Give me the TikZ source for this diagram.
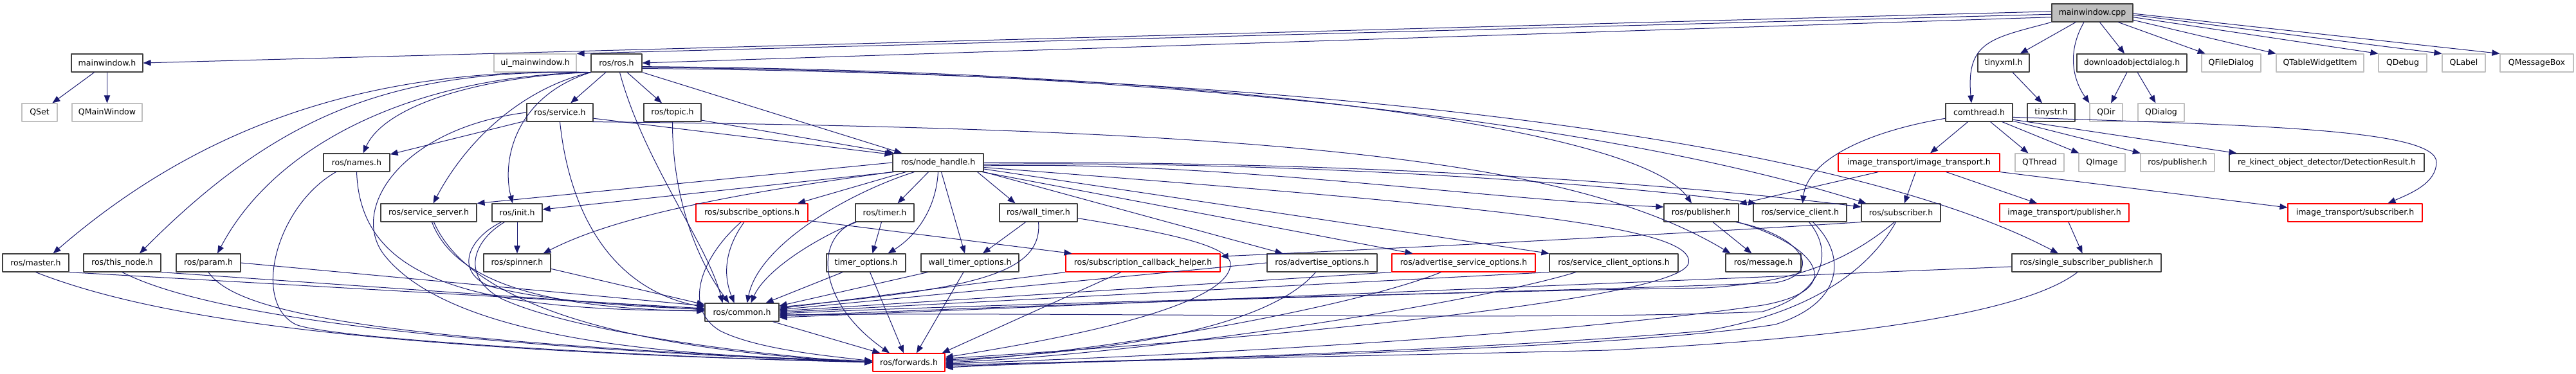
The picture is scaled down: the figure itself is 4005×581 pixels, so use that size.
\documentclass[tikz,border=0pt]{standalone}
\usepackage{fontspec}
\setmainfont{DejaVu Sans}
\usetikzlibrary{arrows.meta,calc}
\definecolor{depblue}{RGB}{25,25,112}
\definecolor{extgray}{RGB}{191,191,191}
\definecolor{hdrgray}{RGB}{64,64,64}

\begin{document}
\begin{tikzpicture}[x=0.3mm,y=-0.3mm,>={Triangle[length=3.6mm,width=2.8mm]},
    line join=round,
    hfile/.style={draw=hdrgray,line width=0.35mm,fill=white,inner sep=0pt,
      minimum height=8.4mm,font=\fontsize{10.7pt}{12pt}\selectfont},
    extfile/.style={hfile,draw=extgray},
    trunc/.style={hfile,draw=red},
    rootfile/.style={hfile,fill=extgray},
    bw/.style={minimum width=#1*0.3mm},
    dep/.style={->,draw=depblue,line width=0.3mm}]
    \useasboundingbox (0,0) rectangle (4005,581);

    % Row 0 and 1: the source file and what it pulls in directly.
    \node[rootfile,bw=126] (mcpp) at (3253,20) {mainwindow.cpp};
    \node[hfile,bw=111] (mwh) at (166.5,98) {mainwindow.h};
    \node[extfile,bw=128] (uimw) at (832,98) {ui\_mainwindow.h};
    \node[hfile,bw=79] (ros) at (958.5,98) {ros/ros.h};
    \node[hfile,bw=80] (txml) at (3115,98) {tinyxml.h};
    \node[hfile,bw=171] (dlg) at (3314.5,98) {downloadobjectdialog.h};
    \node[extfile,bw=92] (qfd) at (3469,98) {QFileDialog};
    \node[extfile,bw=136] (qtwi) at (3607,98) {QTableWidgetItem};
    \node[extfile,bw=75] (qdbg) at (3735.5,98) {QDebug};
    \node[extfile,bw=67] (qlbl) at (3830.5,98) {QLabel};
    \node[extfile,bw=114] (qmb) at (3944,98) {QMessageBox};

    % Row 2.
    \node[extfile,bw=55] (qset) at (61.5,175) {QSet};
    \node[extfile,bw=109] (qmw) at (166.5,175) {QMainWindow};
    \node[hfile,bw=103] (srv) at (870.5,175) {ros/service.h};
    \node[hfile,bw=89] (topic) at (1045.5,175) {ros/topic.h};
    \node[hfile,bw=104] (cth) at (3077,175) {comthread.h};
    \node[hfile,bw=74] (tstr) at (3189,175) {tinystr.h};
    \node[extfile,bw=51] (qdir) at (3274.5,175) {QDir};
    \node[extfile,bw=72] (qdlg) at (3360,175) {QDialog};

    % Row 3.
    \node[hfile,bw=103] (names) at (554.5,253) {ros/names.h};
    \node[hfile,bw=141] (nh) at (1458.5,253) {ros/node\_handle.h};
    \node[trunc,bw=251] (itit) at (2983.5,253) {image\_transport/image\_transport.h};
    \node[extfile,bw=76] (qthr) at (3171,253) {QThread};
    \node[extfile,bw=72] (qimg) at (3268,253) {QImage};
    \node[extfile,bw=115] (rpubx) at (3385.5,253) {ros/publisher.h};
    \node[hfile,bw=303] (det) at (3617.5,253) {re\_kinect\_object\_detector/DetectionResult.h};

    % Row 4.
    \node[hfile,bw=149] (ssrv) at (666.5,331) {ros/service\_server.h};
    \node[hfile,bw=78] (init) at (804,331) {ros/init.h};
    \node[trunc,bw=174] (subopt) at (1169,331) {ros/subscribe\_options.h};
    \node[hfile,bw=91] (timer) at (1375.5,331) {ros/timer.h};
    \node[hfile,bw=121] (wtimer) at (1614.5,331) {ros/wall\_timer.h};
    \node[hfile,bw=116] (pub) at (2645,331) {ros/publisher.h};
    \node[hfile,bw=145] (sclient) at (2798.5,331) {ros/service\_client.h};
    \node[hfile,bw=123] (sub) at (2955.5,331) {ros/subscriber.h};
    \node[trunc,bw=201] (itpub) at (3209.5,331) {image\_transport/publisher.h};
    \node[trunc,bw=209] (itsub) at (3661.5,331) {image\_transport/subscriber.h};

    % Row 5.
    \node[hfile,bw=103] (master) at (55.5,409) {ros/master.h};
    \node[hfile,bw=120] (tnode) at (190,409) {ros/this\_node.h};
    \node[hfile,bw=100] (param) at (324,409) {ros/param.h};
    \node[hfile,bw=104] (spin) at (804,409) {ros/spinner.h};
    \node[hfile,bw=123] (topt) at (1346.5,409) {timer\_options.h};
    \node[hfile,bw=152] (wtopt) at (1508,409) {wall\_timer\_options.h};
    \node[trunc,bw=240] (scbh) at (1777,409) {ros/subscription\_callback\_helper.h};
    \node[hfile,bw=171] (advo) at (2055.5,409) {ros/advertise\_options.h};
    \node[trunc,bw=223] (advso) at (2275.5,409) {ros/advertise\_service\_options.h};
    \node[hfile,bw=200] (scopt) at (2509,409) {ros/service\_client\_options.h};
    \node[hfile,bw=117] (msg) at (2741.5,409) {ros/message.h};
    \node[hfile,bw=232] (ssp) at (3244,409) {ros/single\_subscriber\_publisher.h};

    % Rows 6 and 7.
    \node[hfile,bw=115] (common) at (1153.5,486) {ros/common.h};
    \node[trunc,bw=112] (fwd) at (1413,564) {ros/forwards.h};

    % mainwindow.cpp
    \draw[dep] (mcpp.178) -- (mwh.east);
    \draw[dep] (mcpp.182) -- (uimw.north east);
    \draw[dep] (mcpp.186) -- (ros.east);
    \draw[dep] (mcpp.south west) to[out=195,in=95,looseness=1.4] ($(cth.north)+(-12,0)$);
    \draw[dep] (mcpp) -- (txml);
    \draw[dep] ($(mcpp.south)+(-13,0)$) to[out=-120,in=125] (qdir.north west);
    \draw[dep] (mcpp) -- (dlg);
    \draw[dep] (mcpp) -- (qfd);
    \draw[dep] (mcpp.-10) -- (qtwi.north west);
    \draw[dep] (mcpp.-6) -- (qdbg.north west);
    \draw[dep] (mcpp.-3) -- (qlbl.north west);
    \draw[dep] (mcpp.-1) -- (qmb.north west);

    \draw[dep] (mwh) -- (qset);
    \draw[dep] (mwh) -- (qmw);
    \draw[dep] (txml) -- (tstr);
    \draw[dep] (dlg) -- (qdir);
    \draw[dep] (dlg) -- (qdlg);

    % comthread.h
    \draw[dep] (cth) -- (itit);
    \draw[dep] (cth) -- (qthr);
    \draw[dep] (cth) -- (qimg);
    \draw[dep] (cth) -- (rpubx);
    \draw[dep] (cth.-12) -- ($(det.north west)+(12,0)$);
    \draw[dep] (cth.-8) .. controls (3500,195) and (3790,200) .. (3788,253)
      .. controls (3787,285) and (3750,300) .. ($(itsub.north)+(51,0)$);
    \draw[dep] (cth.190) .. controls (2900,205) and (2810,250) .. ($(sclient.north)+(4,0)$);

    % image_transport
    \draw[dep] (itit) -- (itpub);
    \draw[dep] (itit.south east) -- ($(itsub.west)+(0,-8)$);
    \draw[dep] (itit) -- (sub);
    \draw[dep] (itit) -- (pub);
    \draw[dep] (itpub) -- (ssp);

    % ros/ros.h
    \draw[dep] (ros.south west) .. controls (760,118) and (600,160) .. ($(names.north)+(10,0)$);
    \draw[dep] (ros.south west) .. controls (600,105) and (330,180) .. ($(master.north)+(27,0)$);
    \draw[dep] (ros.south west) .. controls (620,108) and (440,170) .. ($(tnode.north)+(27,0)$);
    \draw[dep] (ros.south west) .. controls (650,118) and (430,220) .. ($(param.north)+(14,0)$);
    \draw[dep] (ros.south west) .. controls (820,135) and (730,210) .. ($(ssrv.north)+(7,0)$);
    \draw[dep] (ros.south west) .. controls (800,150) and (780,250) .. ($(init.north)+(-7,0)$);
    \draw[dep] (ros) -- (srv);
    \draw[dep] (ros) -- (topic);
    \draw[dep] ($(ros.south)+(5,0)$) .. controls (1000,250) and (1100,380) .. ($(common.north)+(-30,0)$);
    \draw[dep] (ros.south east) -- ($(nh.north west)+(15,0)$);
    \draw[dep] (ros.-8) .. controls (1900,110) and (2550,200) .. ($(pub.north)+(-15,0)$);
    \draw[dep] (ros.-10) .. controls (1800,110) and (2500,190) .. ($(sub.north west)+(8,0)$);
    \draw[dep] (ros.-12) .. controls (2000,115) and (2850,210) .. ($(ssp.north)+(-44,0)$);

    % ros/service.h and ros/topic.h
    \draw[dep] (srv) -- (names);
    \draw[dep] (srv.south) .. controls (885,330) and (950,450) .. ($(common.west)+(0,-8)$);
    \draw[dep] (srv.west) .. controls (620,200) and (540,330) .. (600,400)
      .. controls (700,520) and (1000,555) .. ($(fwd.west)+(0,-3)$);
    \draw[dep] (srv.-10) -- (nh.170);
    \draw[dep] (srv.-16) .. controls (2000,200) and (2450,250) .. ($(msg.north west)+(8,0)$);
    \draw[dep] (topic.-15) -- (nh.168);
    \draw[dep] (topic.south) .. controls (1045,300) and (1080,400) .. ($(common.north)+(-20,0)$);

    % ros/names.h and the left column
    \draw[dep] (names.south) .. controls (560,420) and (700,485) .. ($(common.west)+(0,-3)$);
    \draw[dep] ($(names.south west)+(20,0)$) .. controls (430,320) and (390,470) .. (460,505)
      .. controls (520,530) and (1100,560) .. ($(fwd.west)+(0,-1)$);
    \draw[dep] (master.south east) -- ($(common.west)+(0,-6)$);
    \draw[dep] (master.south) .. controls (250,500) and (600,545) .. (fwd.west);
    \draw[dep] (tnode.south east) -- ($(common.west)+(0,-4)$);
    \draw[dep] (tnode.south) .. controls (300,480) and (600,535) .. (fwd.west);
    \draw[dep] (param.east) -- ($(common.west)+(0,-10)$);
    \draw[dep] (param.south) .. controls (370,490) and (600,530) .. (fwd.west);

    % ros/service_server.h, ros/init.h, ros/spinner.h
    \draw[dep] ($(ssrv.south)+(5,0)$) .. controls (700,420) and (800,480) .. ($(common.west)+(0,-2)$);
    \draw[dep] ($(ssrv.south)+(8,0)$) .. controls (720,450) and (900,540) .. (fwd.west);
    \draw[dep] ($(init.south west)+(15,0)$) .. controls (730,370) and (705,420) .. (760,445)
      .. controls (850,470) and (1000,478) .. ($(common.west)+(0,-5)$);
    \draw[dep] ($(init.south west)+(20,0)$) .. controls (735,375) and (715,430) .. (780,465)
      .. controls (900,520) and (1200,555) .. (fwd.west);
    \draw[dep] (init) -- (spin);
    \draw[dep] (spin.-10) -- ($(common.west)+(0,-12)$);

    % ros/node_handle.h
    \draw[dep] (nh.west) -- (ssrv.north east);
    \draw[dep] (nh.192) -- ($(init.east)+(0,-5)$);
    \draw[dep] (nh.south west) .. controls (1150,300) and (960,335) .. ($(spin.north east)+(-12,0)$);
    \draw[dep] (nh) -- ($(subopt.north)+(71,0)$);
    \draw[dep] ($(nh.south)+(-37,0)$) .. controls (1320,300) and (1180,380) .. ($(common.north)+(8,0)$);
    \draw[dep] ($(nh.south)+(-15,0)$) -- ($(timer.north)+(20,0)$);
    \draw[dep] (nh.south) .. controls (1455,330) and (1420,370) .. ($(topt.north)+(34,0)$);
    \draw[dep] ($(nh.south)+(5,0)$) -- ($(wtopt.north)+(-8,0)$);
    \draw[dep] ($(nh.south east)+(-10,0)$) -- ($(wtimer.north)+(-36,0)$);
    \draw[dep] (nh.south east) -- ($(advo.north west)+(25,0)$);
    \draw[dep] (nh.-12) -- ($(advso.north west)+(33,0)$);
    \draw[dep] (nh.-8) -- (scopt.north west);
    \draw[dep] (nh.-4) .. controls (1900,250) and (2300,310) .. ($(pub.west)+(0,-9)$);
    \draw[dep] (nh.-2) .. controls (2000,250) and (2500,285) .. ($(sclient.north west)+(5,0)$);
    \draw[dep] (nh.0) .. controls (2100,250) and (2600,285) .. ($(sub.west)+(0,-9)$);
    \draw[dep] (nh.-6) .. controls (2300,320) and (2640,350) .. (2625,410)
      .. controls (2610,465) and (2000,525) .. ($(fwd.east)+(0,-6)$);

    % subscribe options and timers
    \draw[dep] (subopt.-8) -- ($(scbh.north west)+(10,0)$);
    \draw[dep] ($(subopt.south)+(-12,0)$) .. controls (1125,390) and (1125,430) .. ($(common.north)+(-12,0)$);
    \draw[dep] ($(subopt.south)+(-17,0)$) .. controls (1090,400) and (1060,480) .. (1120,515)
      .. controls (1180,545) and (1300,555) .. ($(fwd.west)+(0,-2)$);
    \draw[dep] ($(timer.south)+(-5,0)$) -- ($(topt.north)+(10,0)$);
    \draw[dep] ($(timer.south west)+(2,0)$) .. controls (1270,370) and (1190,420) .. ($(common.north)+(14,0)$);
    \draw[dep] (timer.south west) .. controls (1265,370) and (1270,470) .. ($(fwd.north)+(-30,0)$);
    \draw[dep] (topt) -- ($(common.north)+(37,0)$);
    \draw[dep] (topt) -- ($(fwd.north)+(-8,0)$);
    \draw[dep] (wtimer) -- (wtopt);
    \draw[dep] (wtimer.south) .. controls (1622,430) and (1500,450) .. ($(common.east)+(0,-8)$);
    \draw[dep] (wtimer.-8) .. controls (1800,360) and (1910,380) .. (1913,410)
      .. controls (1915,470) and (1700,520) .. ($(fwd.east)+(0,-8)$);
    \draw[dep] ($(wtopt.south west)+(11,0)$) -- ($(common.east)+(0,-10)$);
    \draw[dep] ($(wtopt.south)+(-10,0)$) -- ($(fwd.north)+(12,0)$);

    % option headers down to common and forwards
    \draw[dep] (scbh.south west) -- ($(common.east)+(0,-6)$);
    \draw[dep] ($(scbh.south)+(-34,0)$) -- ($(fwd.north east)+(-5,0)$);
    \draw[dep] (advo.west) -- ($(common.east)+(0,-4)$);
    \draw[dep] ($(advo.south)+(-10,0)$) .. controls (2010,465) and (1900,540) .. ($(fwd.east)+(0,-4)$);
    \draw[dep] (advso.south west) -- ($(common.east)+(0,-2)$);
    \draw[dep] ($(advso.south)+(-35,0)$) .. controls (2100,480) and (1700,550) .. ($(fwd.east)+(0,-2)$);
    \draw[dep] (scopt.south west) -- (common.east);
    \draw[dep] ($(scopt.south)+(-59,0)$) .. controls (2300,470) and (1800,550) .. (fwd.east);

    % publisher, service client, subscriber
    \draw[dep] (pub) -- (msg);
    \draw[dep] ($(pub.south east)+(-5,0)$) .. controls (2800,365) and (2840,425) .. (2760,440)
      .. controls (2400,455) and (1600,470) .. ($(common.east)+(0,2)$);
    \draw[dep] ($(pub.south east)+(-2,0)$) .. controls (2820,380) and (2880,450) .. (2740,475)
      .. controls (2400,525) and (1800,555) .. ($(fwd.east)+(0,2)$);
    \draw[dep] ($(sclient.south)+(14,0)$) .. controls (2850,390) and (2840,455) .. (2740,485)
      .. controls (2400,500) and (1700,485) .. ($(common.east)+(0,4)$);
    \draw[dep] ($(sclient.south)+(20,0)$) .. controls (2870,395) and (2870,470) .. (2760,505)
      .. controls (2500,545) and (1800,560) .. ($(fwd.east)+(0,4)$);
    \draw[dep] ($(sub.south)+(-10,0)$) .. controls (2880,400) and (2800,440) .. (2650,448)
      .. controls (2200,455) and (1600,475) .. ($(common.east)+(0,6)$);
    \draw[dep] ($(sub.south)+(-8,0)$) .. controls (2900,430) and (2800,490) .. (2650,515)
      .. controls (2300,545) and (1800,560) .. ($(fwd.east)+(0,6)$);
    \draw[dep] (sub.south west) .. controls (2600,365) and (2100,390) .. ($(scbh.east)+(0,-10)$);
    \draw[dep] ($(ssp.west)+(0,6)$) -- ($(common.east)+(0,8)$);
    \draw[dep] ($(ssp.south)+(-14,0)$) .. controls (3150,485) and (2900,525) .. (2500,545)
      .. controls (2100,555) and (1700,560) .. ($(fwd.east)+(0,8)$);

    \draw[dep] ($(common.south east)+(-10,0)$) -- ($(fwd.north west)+(12,0)$);
  \end{tikzpicture}
\end{document}
